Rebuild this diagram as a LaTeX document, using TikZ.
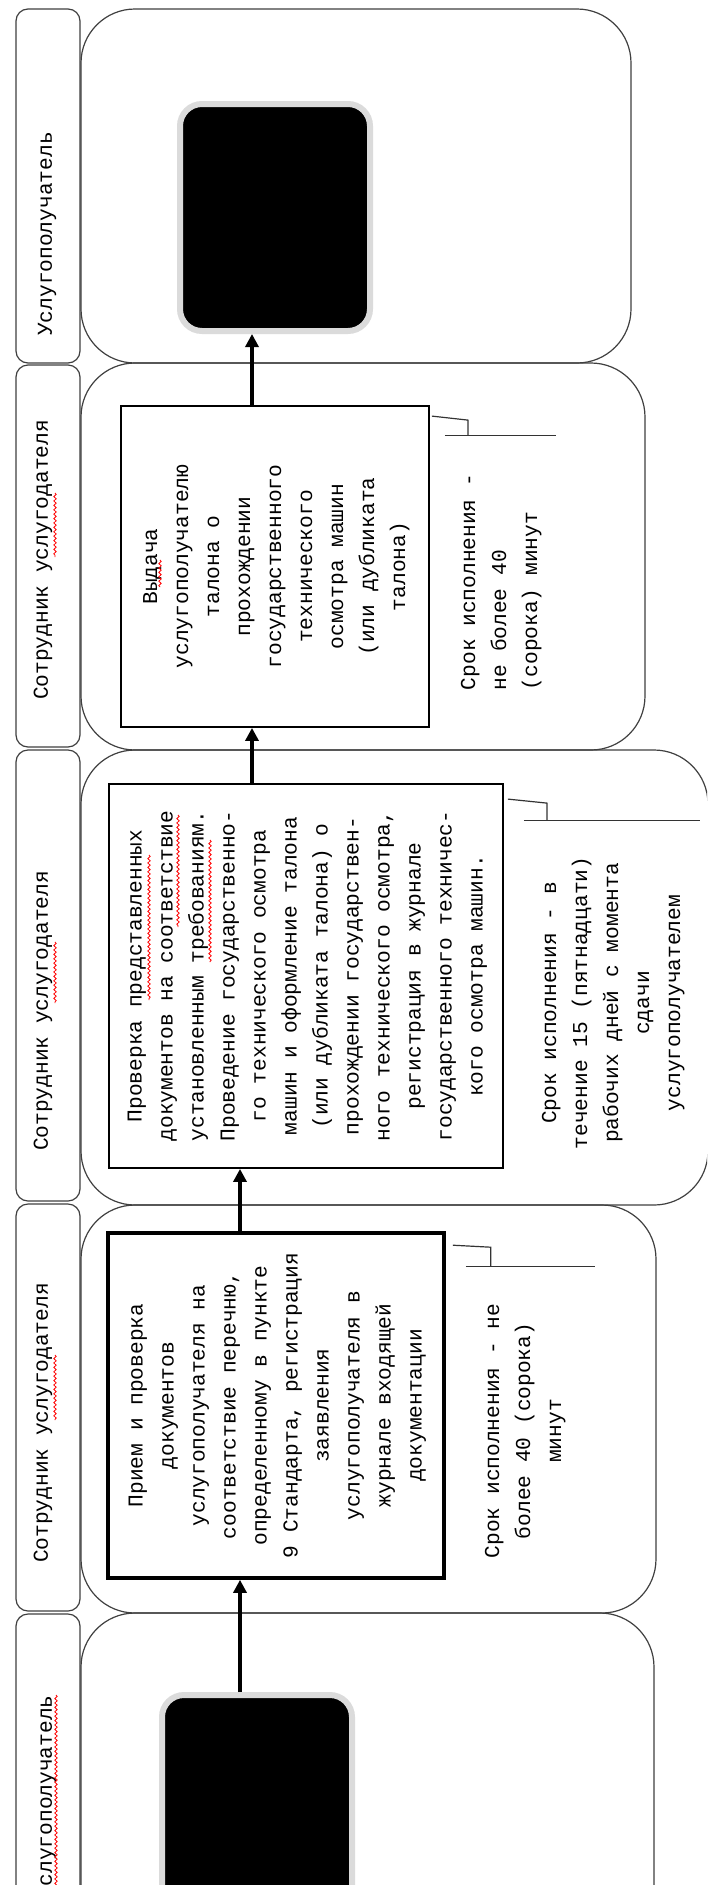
\documentclass[tikz,border=0pt]{standalone}
\usepackage{fontspec}
\usepackage{graphicx}
\setmainfont{Liberation Mono}
\usetikzlibrary{arrows.meta,calc,decorations.pathmorphing}
\newcommand{\boxfont}{\fontsize{10.6}{15.5}\selectfont}
\newcommand{\vtext}[2][c]{\rotatebox{90}{\begin{tabular}{@{}#1@{}}#2\end{tabular}}}

\begin{document}
\begin{tikzpicture}[x=0.5pt, y=-0.5pt,
        lane/.style = {draw=black!75, line width=0.6pt, rounded corners=27pt},
        lanetag/.style = {draw=black!75, line width=0.6pt, rounded corners=6pt},
        tag/.style = {inner sep=0pt, font=\boxfont},
        procbox/.style = {draw, line width=0.9pt, inner sep=0pt, font=\boxfont},
        endbox/.style = {fill=black, draw=black!14, line width=3pt, rounded corners=11pt, minimum width=95pt},
        flow/.style = {-{Triangle[length=6.5pt,width=6.5pt]}, line width=1.8pt},
        callout/.style = {draw=black!80, line width=0.6pt},
        note/.style = {inner sep=0pt, font=\boxfont},
        spell/.style = {draw=red, line width=0.4pt, decorate, decoration={snake, amplitude=0.6pt, segment length=2.2pt}}]
    \path[use as bounding box, fill=white] (0,0) rectangle (707,1885);
    \clip (0,0) rectangle (707,1885);
    \draw[lanetag] (16,9) rectangle (80,363);
    \draw[lane] (81,9) rectangle (631,363);
    \draw[lanetag] (16,365) rectangle (80,747);
    \draw[lane] (81,363) rectangle (645,750);
    \draw[lanetag] (16,750) rectangle (80,1201);
    \draw[lane] (81,750) rectangle (708,1205);
    \draw[lanetag] (16,1204) rectangle (80,1611);
    \draw[lane] (81,1205) rectangle (656,1613);
    \draw[lanetag] (16,1614) rectangle (80,2000);
    \draw[lane] (81,1613) rectangle (654,2000);

    \node[tag] (who1) at (47,234) {\rotatebox{90}{Услугополучатель}};
    \node[tag] (who2) at (43,560) {\rotatebox{90}{Сотрудник услугодателя}};
    \node[tag] (who3) at (43,1011) {\rotatebox{90}{Сотрудник услугодателя}};
    \node[tag] (who4) at (43,1423) {\rotatebox{90}{Сотрудник услугодателя}};
    \node[tag, anchor=north] (who5) at (47,1695) {\rotatebox{90}{Услугополучатель}};

    \node[endbox, minimum height=113.5pt] (result) at (275,217.5) {};
    \node[procbox, minimum width=154pt, minimum height=160.5pt] (issue) at (275,566.5) {\vtext{Выдача\\услугополучателю\\талона о\\прохождении\\государственного\\технического\\осмотра машин\\(или дубликата\\талона)}};
    \node[procbox, minimum width=197pt, minimum height=192pt] (check) at (306,976) {\vtext{Проверка представленных\\документов на соответствие\\установленным требованиям.\\Проведение государственно-\\го технического осмотра\\машин и оформление талона\\(или дубликата талона) о\\прохождении государствен-\\ного технического осмотра,\\регистрация в журнале\\государственного техничес-\\кого осмотра машин.}};
    \node[procbox, line width=1.8pt, minimum width=168pt, minimum height=172.5pt] (accept) at (276,1405.5) {\vtext{Прием и проверка\\документов\\услугополучателя на\\соответствие перечню,\\определенному в пункте\\9 Стандарта, регистрация\\заявления\\услугополучателя в\\журнале входящей\\документации}};
    \node[endbox, minimum height=160pt] (client) at (257,1855) {};

    \coordinate (upper) at (252,0);
    \coordinate (lower) at (240,0);
    \draw[flow] (issue.north -| upper) -- (result.south -| upper);
    \draw[flow] (check.north -| upper) -- (issue.south -| upper);
    \draw[flow] (accept.north -| lower) -- (check.south -| lower);
    \draw[flow] (client.north -| lower) -- (accept.south -| lower);

    \draw[callout] ($(issue.north east)+(2,11)$) -- ++(36,4) -- ++(0,15);
    \draw[callout] ($(issue.north east)+(15,30)$) -- ++(111,0);
    \draw[callout] ($(check.north east)+(4,16)$) -- ++(39,4) -- ++(0,17);
    \draw[callout] ($(check.north east)+(20,37)$) -- ++(176,0);
    \draw[callout] ($(accept.north east)+(7,14)$) -- ++(38,2) -- ++(0,19);
    \draw[callout] ($(accept.north east)+(20,35)$) -- ++(129,0);

    \node[note] (time2) at (500,582) {\vtext[l]{Срок исполнения -\\не более 40\\(сорока) минут}};
    \node[note] (time3) at (612,1003) {\vtext{Срок исполнения - в\\течение 15 (пятнадцати)\\рабочих дней с момента\\сдачи\\услугополучателем}};
    \node[note] (time4) at (524,1431) {\vtext{Срок исполнения - не\\более 40 (сорока)\\минут}};

    \draw[spell] (55,493) -- (55,557);
    \draw[spell] (55,942) -- (55,1003);
    \draw[spell] (55,1355) -- (55,1420);
    \draw[spell] (56,1695) -- (56,1890);
    \draw[spell] (160,560) -- (160,587);
    \draw[spell] (149,855) -- (149,1000);
    \draw[spell] (178,815) -- (178,927);
    \draw[spell] (210,840) -- (210,962);
\end{tikzpicture}
\end{document}
